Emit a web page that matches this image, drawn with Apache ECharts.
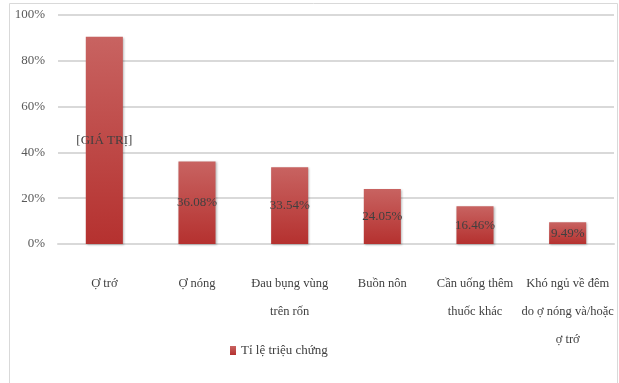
<!DOCTYPE html>
<html><head><meta charset="utf-8">
<script src="https://cdn.jsdelivr.net/npm/echarts@6/dist/echarts.min.js"></script>
<style>html,body{margin:0;padding:0;background:#fff}#c{width:619px;height:383px}</style>
</head><body><div id="c"></div>
<script>
const categories = ['Ợ trớ', 'Ợ nóng', 'Đau bụng vùng\ntrên rốn', 'Buồn nôn', 'Cần uống thêm\nthuốc khác', 'Khó ngủ về đêm\ndo ợ nóng và/hoặc\nợ trớ'];
const values = [90.51, 36.08, 33.54, 24.05, 16.46, 9.49];
const valueLabels = ['[GIÁ TRỊ]', '36.08%', '33.54%', '24.05%', '16.46%', '9.49%'];
const yTicks = [0, 20, 40, 60, 80, 100];
const seriesName = 'Tỉ lệ triệu chứng';

const chart = echarts.init(document.getElementById('c'), null, {renderer: 'canvas'});
const font = '"Liberation Serif", "DejaVu Serif", serif';
chart.setOption({
  animation: false,
  textStyle: {fontFamily: font},
  graphic: [{type: 'rect', shape: {x: 9.5, y: 3.5, width: 608, height: 400}, style: {fill: 'none', stroke: '#d9d9d9', lineWidth: 1}}],
  legend: {
    data: [seriesName], left: 225, top: 339, itemWidth: 6, itemHeight: 9, itemGap: 4,
    icon: 'rect',
    textStyle: {fontFamily: font, fontSize: 13, color: '#404040'}
  },
  grid: {left: 58, right: 5, top: 15, bottom: 139},
  xAxis: {
    type: 'category', data: categories,
    axisLine: {lineStyle: {color: '#d9d9d9', width: 2}},
    axisTick: {show: false},
    axisLabel: {interval: 0, margin: 26, fontFamily: font, fontSize: 12.5, color: '#404040', lineHeight: 28}
  },
  yAxis: {
    type: 'value', min: yTicks[0], max: yTicks[yTicks.length - 1], interval: 20,
    axisLine: {show: false}, axisTick: {show: false},
    splitLine: {lineStyle: {color: '#d9d9d9', width: 2}},
    axisLabel: {formatter: v => v + '%', fontFamily: font, fontSize: 13, color: '#595959', margin: 13}
  },
  series: [{
    name: seriesName, type: 'bar', data: values, barWidth: '40%',
    itemStyle: {
      color: new echarts.graphic.LinearGradient(0, 0, 0, 1, [
        {offset: 0, color: '#c86361'}, {offset: 1, color: '#b5312f'}
      ]),
      shadowColor: 'rgba(0,0,0,0.25)', shadowBlur: 2, shadowOffsetX: 1, shadowOffsetY: 1
    },
    label: {
      show: true, position: 'inside',
      formatter: p => valueLabels[p.dataIndex],
      fontFamily: font, fontSize: 13, color: '#404040'
    }
  }]
});
</script></body></html>
